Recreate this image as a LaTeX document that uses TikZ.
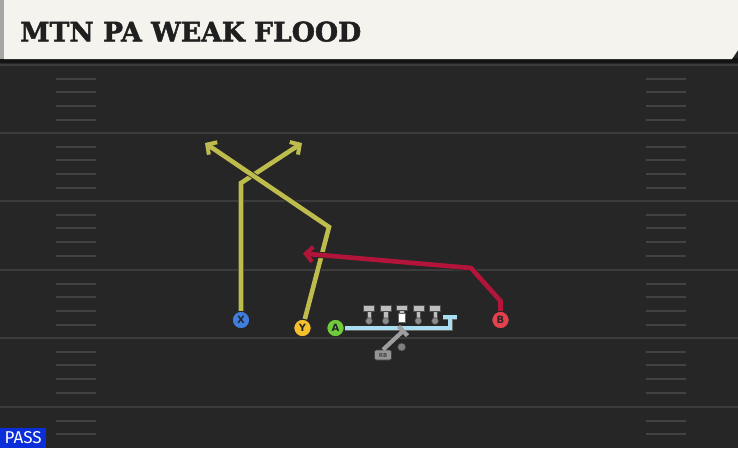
\documentclass[tikz,border=0pt]{standalone}
\usepackage{fontspec}
\setmainfont{DejaVu Sans}
\newfontfamily\titlefont[FakeBold=1.8]{DejaVu Serif Bold}
\newfontfamily\passfont{Fira Sans}
\usetikzlibrary{arrows.meta}
\definecolor{fieldbg}{HTML}{262626}
\definecolor{cream}{HTML}{F5F3ED}
\definecolor{fieldline}{HTML}{3C3C3C}
\definecolor{hashc}{HTML}{424242}
\definecolor{routey}{HTML}{BDBC4C}
\definecolor{router}{HTML}{B3153A}
\definecolor{routeb}{HTML}{A8DEF0}
\definecolor{px}{HTML}{3F7EDC}
\definecolor{py}{HTML}{F4C12E}
\definecolor{pa}{HTML}{6FCB3B}
\definecolor{pb}{HTML}{E3414D}
\definecolor{olgray}{HTML}{BEBEBE}
\definecolor{passblue}{HTML}{0A2ED8}
\tikzset{
  player/.style={circle, draw=black!85, line width=1pt, minimum size=17.5pt, inner sep=0pt,
    font=\bfseries\fontsize{10}{10}\selectfont, text=black!85},
  route/.style={line width=4.6pt, line join=miter,
    preaction={draw=black!85, line width=6.2pt}},
  routearrow/.style={-{Straight Barb[length=7pt,width=15pt,line width=4pt]}},
  fline/.style={draw=fieldline, line width=2.2pt},
  hash/.style={draw=hashc, line width=2pt},
  olman/.style={fill=olgray, draw=black!70, line width=0.6pt},
}
\begin{document}
\begin{tikzpicture}[x=1pt,y=-1pt]
\useasboundingbox (0,0) rectangle (738,448);
\fill[fieldbg] (0,0) rectangle (738,448);
\fill[black!92] (0,58) rectangle (738,63);
% field lines
\foreach \yy in {65,133,201,270,338,407} \draw[fline] (0,\yy) -- (738,\yy);
% hash marks
\foreach \bb in {65,133,201,270,338} {
  \foreach \k in {1,...,4} {
    \draw[hash] (56,\bb+\k*13.7) -- (96,\bb+\k*13.7);
    \draw[hash] (646,\bb+\k*13.7) -- (686,\bb+\k*13.7);
  }
}
\foreach \k in {1,2} {
  \draw[hash] (56,407+\k*13.7) -- (96,407+\k*13.7);
  \draw[hash] (646,407+\k*13.7) -- (686,407+\k*13.7);
}
% header
\fill[cream] (4,0) -- (738,0) -- (738,50) -- (732,59) -- (4,59) -- cycle;
\fill[black!35] (0,0) rectangle (4,59);
\node[inner sep=0pt, anchor=south west] (title) at (20,42)
  {\resizebox{341pt}{20pt}{\color{black!88}\titlefont MTN PA WEAK FLOOD}};

% linemen
\foreach \xx in {369,385.7,418.3,435} {
  \filldraw[olman] (\xx-5.5,305.5) rectangle (\xx+5.5,311);
  \filldraw[olman] (\xx-2.2,311) rectangle (\xx+2.2,321);
  \filldraw[fill=black!45, draw=black!70, line width=0.5pt] (\xx,321) circle (3.4);
}
\filldraw[olman] (396.2,305) rectangle (407.2,310.5);
\filldraw[olman] (399.5,310.5) rectangle (403.9,313);
\filldraw[fill=white, draw=black!60, line width=0.5pt] (397.8,313) rectangle (405.6,322);

% players
\node[player, fill=px] (X) at (241,320) {X};
\node[player, fill=py] (Y) at (302.5,328) {Y};
\node[player, fill=pa] (A) at (335.5,328) {A};
\node[player, fill=pb] (B) at (500.5,320) {B};

% route coordinates
\coordinate (xbend) at (241,183);
\coordinate (xend) at (302,143);
\coordinate (ybend) at (329,227);
\coordinate (yend) at (205,143);
\coordinate (bbend1) at (500.5,301);
\coordinate (bbend2) at (471,268);
\coordinate (bend) at (303,253.5);
\coordinate (abend) at (450,328);
\coordinate (aend) at (450,317);
\coordinate (acapl) at (443,317);
\coordinate (acapr) at (457,317);

% routes
\draw[route, routey, routearrow] (X) -- (xbend) -- (xend);
\draw[route, routey, routearrow] (Y) -- (ybend) -- (yend);
\draw[route, router, routearrow] (B) -- (bbend1) -- (bbend2) -- (bend);
\draw[line width=3.8pt, routeb, preaction={draw=black!60, line width=5pt}] (A) -- (abend) -- (aend);
\draw[line width=3.8pt, routeb, preaction={draw=black!60, line width=5pt}] (acapl) -- (acapr);
\draw[line width=3.8pt, routeb] (abend) -- (aend);

% RB
\node[rounded corners=2pt, fill=black!42, draw=black!75, line width=0.6pt, minimum width=17pt, minimum height=10pt, inner sep=0pt,
  font=\bfseries\fontsize{5.5}{5.5}\selectfont, text=black!72] (RB) at (383,355) {RB};
\coordinate (rbend) at (403,331);
\coordinate (rbcap1) at (398.5,326.3);
\coordinate (rbcap2) at (407.5,335.7);
\draw[line width=4.2pt, black!38] (RB.north) -- (rbend);
\draw[line width=4.2pt, black!38] (rbcap1) -- (rbcap2);
\filldraw[fill=black!50, draw=black!75, line width=0.5pt] (401.7,347) circle (4);

% PASS
\node[fill=passblue, inner sep=0pt, minimum width=46pt, minimum height=20pt, anchor=south west] (pass) at (0,448)
  {\resizebox{37pt}{12pt}{\passfont\color{white} PASS}};
\end{tikzpicture}
\end{document}
